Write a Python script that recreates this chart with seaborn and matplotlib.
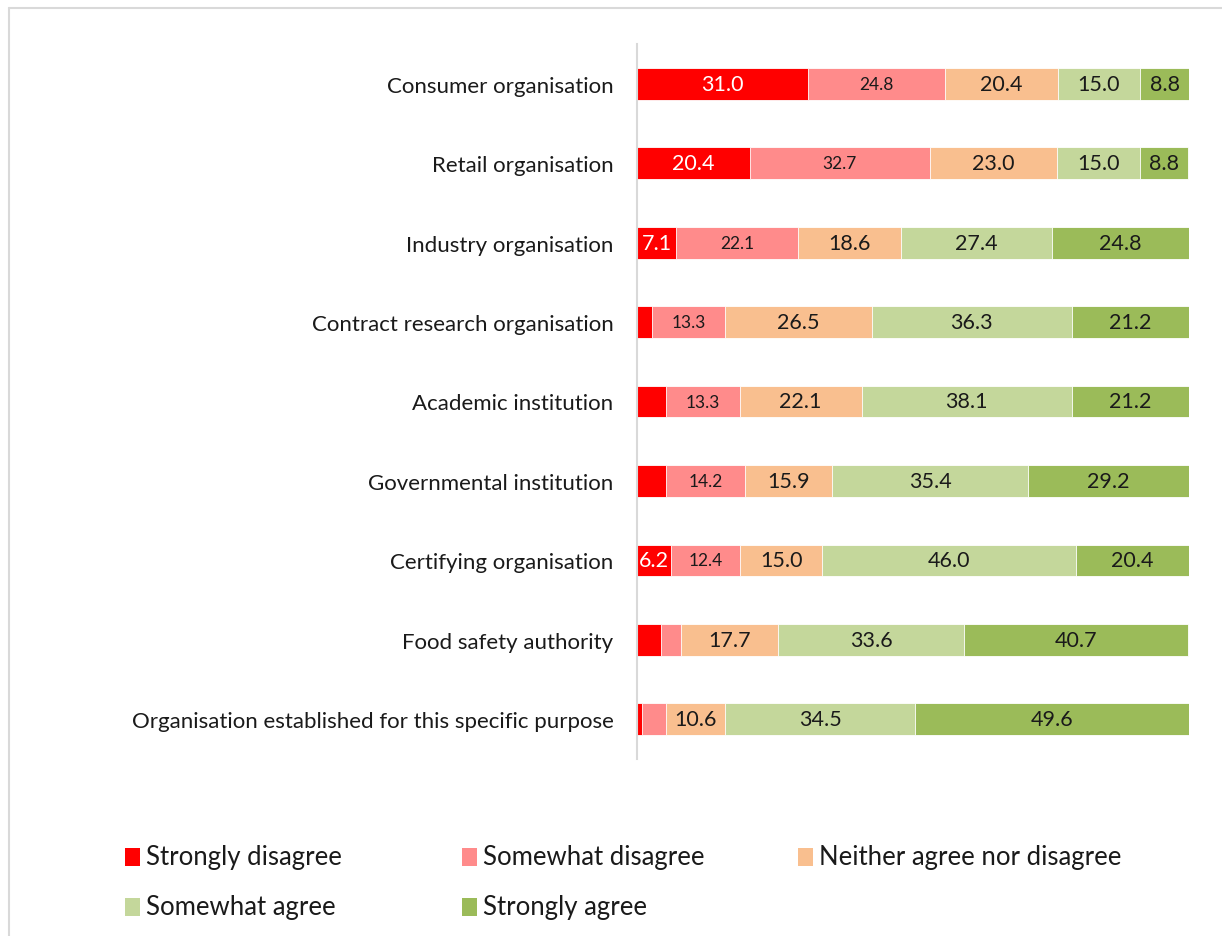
import numpy as np
import pandas as pd
import matplotlib
matplotlib.use("Agg")
import matplotlib.pyplot as plt
from matplotlib.lines import Line2D
from matplotlib.patches import Rectangle
import seaborn as sns

# Survey responses (% of respondents) per organisation type
categories = [
    "Consumer organisation",
    "Retail organisation",
    "Industry organisation",
    "Contract research organisation",
    "Academic institution",
    "Governmental institution",
    "Certifying organisation",
    "Food safety authority",
    "Organisation established for this specific purpose",
]
strongly_disagree = [31.0, 20.4, 7.1, 2.7, 5.3, 5.3, 6.2, 4.4, 0.9]
somewhat_disagree = [24.8, 32.7, 22.1, 13.3, 13.3, 14.2, 12.4, 3.5, 4.4]
neither = [20.4, 23.0, 18.6, 26.5, 22.1, 15.9, 15.0, 17.7, 10.6]
somewhat_agree = [15.0, 15.0, 27.4, 36.3, 38.1, 35.4, 46.0, 33.6, 34.5]
strongly_agree = [8.8, 8.8, 24.8, 21.2, 21.2, 29.2, 20.4, 40.7, 49.6]

series_names = [
    "Strongly disagree",
    "Somewhat disagree",
    "Neither agree nor disagree",
    "Somewhat agree",
    "Strongly agree",
]
series_values = [strongly_disagree, somewhat_disagree, neither,
                 somewhat_agree, strongly_agree]
colors = ["#FF0000", "#FF8B8B", "#F9BF8F", "#C4D79B", "#9BBB59"]
label_colors = ["white", "#1a1a1a", "#1a1a1a", "#1a1a1a", "#1a1a1a"]
label_sizes = [15.5, 12.5, 15.5, 15.5, 15.5]

sns.set_style("white")
plt.rcParams["font.family"] = ["Lato", "DejaVu Sans"]

fig = plt.figure(figsize=(12.22, 9.37), dpi=100)
ax = fig.add_axes([637 / 1222, 1 - 760 / 937, 552 / 1222, 715 / 937])

vals = np.array(series_values)
cum = np.cumsum(vals, axis=0)

# Stacked bars: draw the cumulative totals from the outermost series inward
for i in range(len(series_names) - 1, -1, -1):
    df = pd.DataFrame({"category": categories, "value": cum[i]})
    sns.barplot(data=df, x="value", y="category", orient="h", color=colors[i],
                width=0.4, saturation=1, ax=ax, edgecolor="white",
                linewidth=0.6)

# Value labels at each segment's centre
for i in range(len(series_names)):
    start = cum[i] - vals[i]
    for j, v in enumerate(vals[i]):
        if v >= 6:
            ax.text(start[j] + v / 2, j, f"{v:.1f}", ha="center", va="center",
                    color=label_colors[i], fontsize=label_sizes[i])

ax.set_xlim(0, 100)
ax.set_ylim(len(categories) - 0.5, -0.5)
ax.set_xlabel("")
ax.set_ylabel("")
ax.set_xticks([])
ax.tick_params(axis="y", length=0, pad=17, labelsize=16, labelcolor="#1a1a1a")
for s in ["top", "right", "bottom"]:
    ax.spines[s].set_visible(False)
ax.spines["left"].set_color("#D9D9D9")
ax.spines["left"].set_linewidth(1.5)

# Legend laid out in a 3-column grid
leg_x = [125, 462, 798]
leg_y = [858, 908]
for k, name in enumerate(series_names):
    r, c = divmod(k, 3)
    x0, y0 = leg_x[c], leg_y[r]
    fig.patches.append(Rectangle((x0 / 1222, 1 - (y0 + 9) / 937), 15 / 1222, 18 / 937,
                                 transform=fig.transFigure, facecolor=colors[k],
                                 edgecolor="none"))
    fig.text((x0 + 21) / 1222, 1 - y0 / 937, name, ha="left", va="center",
             fontsize=18.5, color="#1a1a1a")

# Chart area border (top and left edges)
fig.lines.append(Line2D([9 / 1222, 1], [1 - 9 / 937, 1 - 9 / 937],
                        transform=fig.transFigure, color="#D9D9D9", lw=1.5))
fig.lines.append(Line2D([9 / 1222, 9 / 1222], [1 - 9 / 937, 0],
                        transform=fig.transFigure, color="#D9D9D9", lw=1.5))

fig.savefig("out.png", dpi=100)
